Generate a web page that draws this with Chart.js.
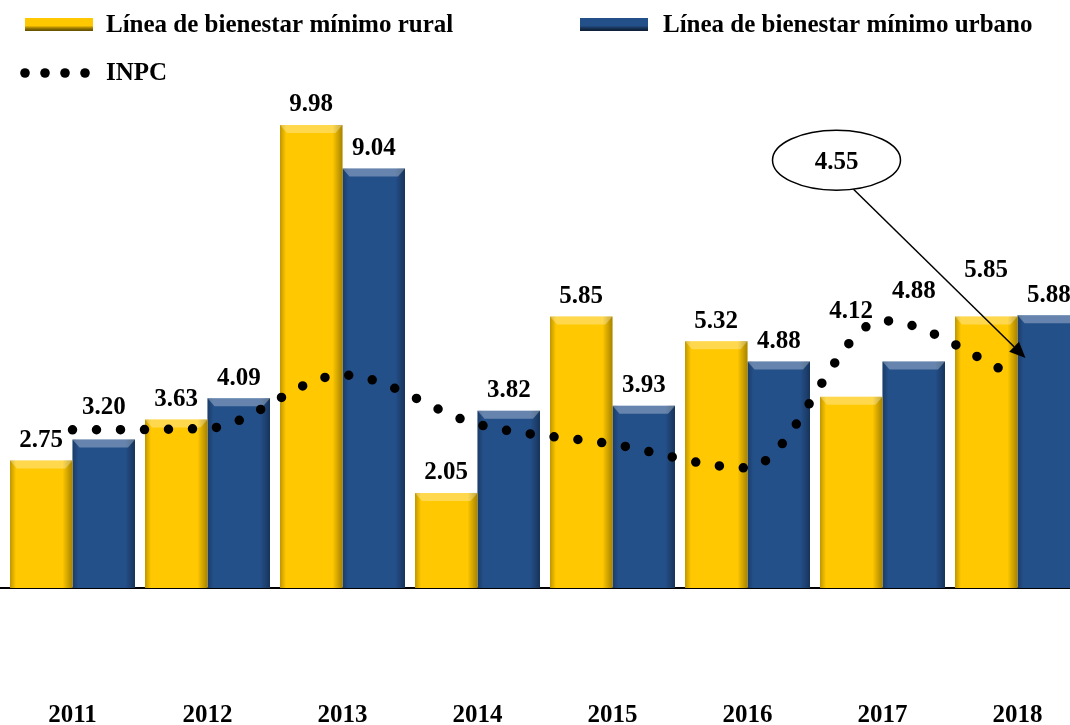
<!DOCTYPE html>
<html lang="es">
<head>
<meta charset="utf-8">
<title>Líneas de bienestar mínimo e INPC</title>
<script src="https://cdn.jsdelivr.net/npm/chart.js@4.4.1/dist/chart.umd.min.js"></script>
<style>
  html, body { margin: 0; padding: 0; background: #fff; overflow: hidden; }
  #wrap { width: 1070px; height: 725px; overflow: hidden; }
  canvas { display: block; }
</style>
</head>
<body>
<div id="wrap"><canvas id="chart" width="1090" height="725"></canvas></div>
<script>
const years = ["2011", "2012", "2013", "2014", "2015", "2016", "2017", "2018"];
const rural = [2.75, 3.63, 9.98, 2.05, 5.85, 5.32, 4.12, 5.85];
const urbano = [3.20, 4.09, 9.04, 3.82, 3.93, 4.88, 4.88, 5.88];
const inpc = [3.41, 3.44, 4.59, 3.53, 3.10, 2.59, 5.76, 4.55];

const YELLOW = "#FFC800";
const BLUE = "#24508A";
const FONT = '"Liberation Serif", "Times New Roman", serif';

// bisel de las barras (efecto 3D)
const bevel = {
  id: "bevel",
  afterDatasetDraw(chart, args) {
    if (args.meta.type !== "bar") return;
    const ctx = chart.ctx;
    ctx.save();
    args.meta.data.forEach((bar) => {
      const l = bar.x - bar.width / 2, r = bar.x + bar.width / 2;
      const t = bar.y, b = bar.base;
      let g = ctx.createLinearGradient(r - 10, 0, r, 0);
      g.addColorStop(0, "rgba(0,0,0,0)");
      g.addColorStop(1, "rgba(0,0,0,0.35)");
      ctx.fillStyle = g;
      ctx.fillRect(r - 10, t, 10, b - t);
      g = ctx.createLinearGradient(l, 0, l + 6, 0);
      g.addColorStop(0, "rgba(0,0,0,0.25)");
      g.addColorStop(1, "rgba(0,0,0,0)");
      ctx.fillStyle = g;
      ctx.fillRect(l, t, 6, b - t);
      ctx.beginPath();
      ctx.moveTo(l, t);
      ctx.lineTo(r, t);
      ctx.lineTo(r - 7, t + 8);
      ctx.lineTo(l + 7, t + 8);
      ctx.closePath();
      ctx.fillStyle = "rgba(255,255,255,0.3)";
      ctx.fill();
    });
    ctx.restore();
  },
};

// etiquetas de valor sobre las barras
const valueLabels = {
  id: "valueLabels",
  afterDatasetsDraw(chart, args, opts) {
    const ctx = chart.ctx;
    ctx.save();
    ctx.font = "bold 25px " + FONT;
    ctx.fillStyle = "#000";
    ctx.textAlign = "center";
    ctx.textBaseline = "middle";
    [0, 1].forEach((di) => {
      const meta = chart.getDatasetMeta(di);
      const vals = chart.data.datasets[di].data;
      meta.data.forEach((bar, i) => {
        const lift = opts.lift[di][i] || 0;
        ctx.fillText(vals[i].toFixed(2), bar.x, bar.y - 20 - lift);
      });
    });
    ctx.restore();
  },
};

// leyenda dibujada a mano y prolongación de la línea base
const legendBox = {
  id: "legendBox",
  afterDraw(chart) {
    const ctx = chart.ctx;
    const ds = chart.data.datasets;
    ctx.save();
    ctx.strokeStyle = "#000";
    ctx.lineWidth = 2;
    ctx.beginPath();
    ctx.moveTo(0, chart.chartArea.bottom);
    ctx.lineTo(chart.chartArea.left + 1, chart.chartArea.bottom);
    ctx.stroke();
    ctx.font = "bold 25px " + FONT;
    ctx.fillStyle = "#000";
    ctx.textBaseline = "middle";
    const swatch = (x, color) => {
      const g = ctx.createLinearGradient(0, 18, 0, 31);
      g.addColorStop(0, color);
      g.addColorStop(0.6, color);
      g.addColorStop(1, "rgba(0,0,0,0.6)");
      ctx.fillStyle = color;
      ctx.fillRect(x, 18, 68, 13);
      ctx.fillStyle = g;
      ctx.fillRect(x, 18, 68, 13);
    };
    swatch(25, ds[0].backgroundColor);
    swatch(580, ds[1].backgroundColor);
    ctx.fillStyle = "#000";
    ctx.fillText(ds[0].label, 106, 26);
    ctx.fillText(ds[1].label, 663, 26);
    for (let k = 0; k < 4; k++) {
      ctx.beginPath();
      ctx.arc(25 + k * 20, 73, 4.8, 0, Math.PI * 2);
      ctx.fill();
    }
    ctx.fillText(ds[2].label, 106, 74);
    ctx.restore();
  },
};

// llamada con el último valor del INPC
const callout = {
  id: "callout",
  afterDraw(chart) {
    const ctx = chart.ctx;
    const meta = chart.getDatasetMeta(2);
    const last = meta.data[meta.data.length - 1];
    const cx = chart.scales.x.getPixelForValue(6) - 46;
    const cy = chart.scales.y.getPixelForValue(9.22);
    const tip = { x: last.x + 8, y: last.y - 19 };
    const from = { x: cx + 17, y: cy + 29 };
    ctx.save();
    ctx.strokeStyle = "#000";
    ctx.lineWidth = 1.5;
    ctx.beginPath();
    ctx.ellipse(cx, cy, 64, 30, 0, 0, Math.PI * 2);
    ctx.fillStyle = "#fff";
    ctx.fill();
    ctx.stroke();
    ctx.fillStyle = "#000";
    ctx.font = "bold 25px " + FONT;
    ctx.textAlign = "center";
    ctx.textBaseline = "middle";
    ctx.fillText(inpc[inpc.length - 1].toFixed(2), cx, cy + 2);
    const ang = Math.atan2(tip.y - from.y, tip.x - from.x);
    const hl = 16, hw = 7;
    const bx = tip.x - hl * Math.cos(ang), by = tip.y - hl * Math.sin(ang);
    ctx.beginPath();
    ctx.moveTo(from.x, from.y);
    ctx.lineTo(bx, by);
    ctx.stroke();
    ctx.beginPath();
    ctx.moveTo(tip.x, tip.y);
    ctx.lineTo(bx + hw * Math.sin(ang), by - hw * Math.cos(ang));
    ctx.lineTo(bx - hw * Math.sin(ang), by + hw * Math.cos(ang));
    ctx.closePath();
    ctx.fill();
    ctx.restore();
  },
};

new Chart(document.getElementById("chart"), {
  type: "bar",
  data: {
    labels: years,
    datasets: [
      {
        label: "Línea de bienestar mínimo rural",
        data: rural,
        backgroundColor: YELLOW,
        borderWidth: 0,
        categoryPercentage: 0.926,
        barPercentage: 1,
        order: 1,
      },
      {
        label: "Línea de bienestar mínimo urbano",
        data: urbano,
        backgroundColor: BLUE,
        borderWidth: 0,
        categoryPercentage: 0.926,
        barPercentage: 1,
        order: 1,
      },
      {
        type: "line",
        label: "INPC",
        data: inpc,
        borderColor: "#000",
        borderWidth: 9.5,
        borderDash: [0, 24],
        borderCapStyle: "round",
        pointRadius: 0,
        cubicInterpolationMode: "monotone",
        fill: false,
        order: 0,
      },
    ],
  },
  options: {
    responsive: false,
    animation: false,
    layout: { padding: { left: 5, right: 5, top: 124, bottom: 0 } },
    plugins: {
      legend: { display: false },
      tooltip: { enabled: false },
      valueLabels: {
        lift: [
          [0, 0, 0, 0, 0, 0, 65, 26],
          [12, 0, 0, 0, 0, 0, 50, 0],
        ],
      },
    },
    scales: {
      x: {
        type: "category",
        grid: { display: false, drawTicks: true, tickLength: 113 },
        border: { display: true, color: "#000", width: 2 },
        ticks: {
          color: "#000",
          padding: 0,
          font: { family: FONT, size: 25, weight: "bold" },
        },
        afterFit: (s) => { s.height = 137; },
      },
      y: { display: false, min: 0, max: 10 },
    },
  },
  plugins: [bevel, valueLabels, legendBox, callout],
});
</script>
</body>
</html>
